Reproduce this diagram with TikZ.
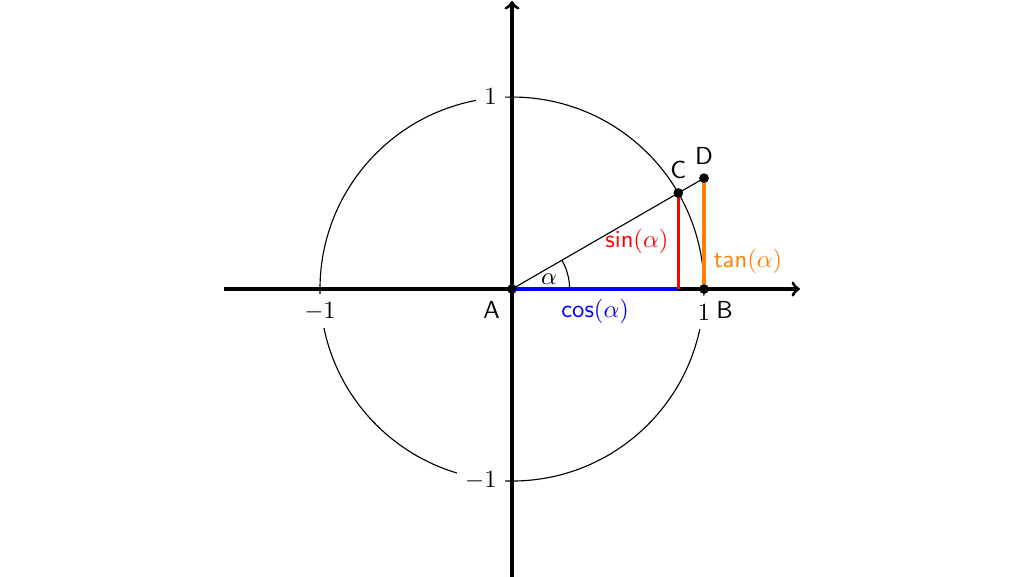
\documentclass[tikz,border=0pt,11pt]{standalone}
\begin{document}
\begin{tikzpicture}[x=3cm,y=3cm,
  axis/.style={line width=1.4pt,->},
  dot/.style={circle,fill=black,inner sep=0pt,minimum size=4.2pt},
  ticklab/.style={fill=white},
  thinline/.style={line width=0.5pt},
  seg/.style={line width=1.4pt}]
\useasboundingbox (-8cm,-4.484cm) rectangle (8cm,4.516cm);
% unit circle
\draw[thinline] (0,0) circle (1);
% tick labels with white background
\node[ticklab, below=2pt] (xm) at (-1,0) {$-1$};
\node[ticklab, below=3pt] (xp) at (1,0) {$1$};
\node[ticklab, left=3pt] (yp) at (0,1) {$1$};
\node[ticklab, left=3pt] (ym) at (0,-1) {$-1$};
% axes
\coordinate (xl) at (-1.5,0);
\coordinate (xr) at (1.5,0);
\coordinate (yb) at (0,-1.5);
\coordinate (yt) at (0,1.5);
\draw[axis] (xl) -- (xr);
\draw[axis] (yb) -- (yt);
% points
\coordinate (Cx) at ({cos(30)},0);
\node[dot, label=below left:\textsf{A}] (A) at (0,0) {};
\node[dot, label=below right:\textsf{B}] (B) at (1,0) {};
\node[dot, label=above:\textsf{C}] (C) at (30:1) {};
\node[dot, label=above:\textsf{D}] (D) at (1,{tan(30)}) {};
% radius line
\draw[thinline] (A.center) -- (D.center);
% angle
\coordinate (arcS) at (0.3,0);
\draw[thinline] (arcS) arc (0:30:0.3);
\node (al) at (15:0.2) {$\alpha$};
% coloured segments
\draw[seg, blue] (A.center) -- (Cx) node[midway, below] (cl) {\textsf{cos}$(\alpha)$};
\draw[seg, red] (Cx) -- (C.center) node[midway, left] (sl) {\textsf{sin}$(\alpha)$};
\draw[seg, orange] (B.center) -- (D.center) node[pos=0.25, right] (tl) {\textsf{tan}$(\alpha)$};
% redraw dots on top
\fill (A) circle (2.1pt);
\fill (B) circle (2.1pt);
\fill (C) circle (2.1pt);
\fill (D) circle (2.1pt);
\end{tikzpicture}
\end{document}
